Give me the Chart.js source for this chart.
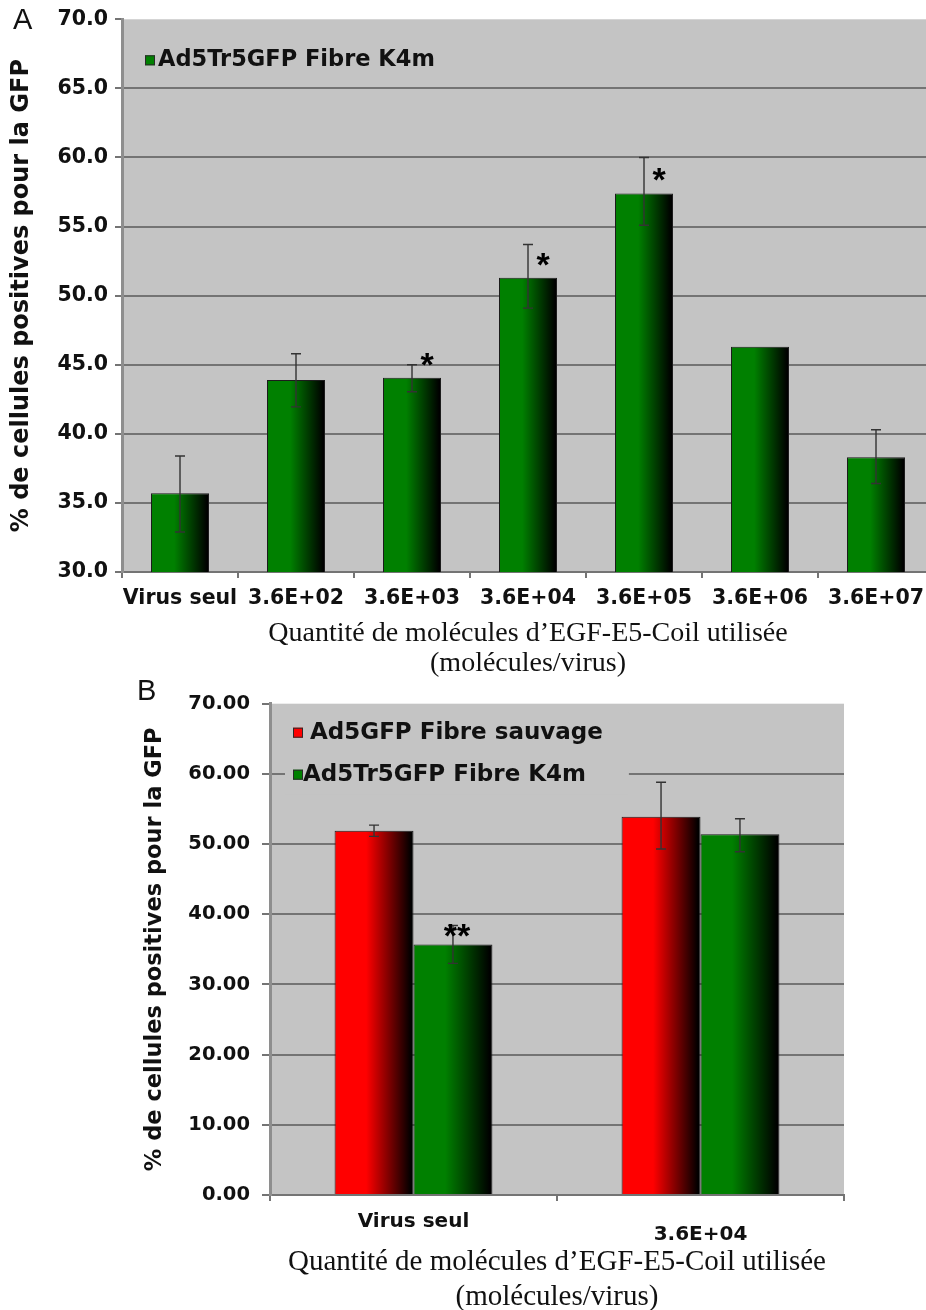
<!DOCTYPE html>
<html>
<head>
<meta charset="utf-8">
<title>EGF-E5-Coil</title>
<script src="https://cdn.jsdelivr.net/npm/chart.js@4.4.0/dist/chart.umd.min.js"></script>
<style>
  html, body { margin: 0; padding: 0; background: #fff; overflow: hidden; width: 926px; height: 1310px; }
  canvas { position: absolute; left: 0; }
  #chartA { top: 0; }
  #chartB { top: 680px; }
  .tag { position: absolute; font: 29px "Liberation Sans", Arial, sans-serif; color: #111; line-height: 1; }
</style>
</head>
<body>
<canvas id="chartA" width="940" height="680"></canvas>
<canvas id="chartB" width="926" height="640"></canvas>
<div class="tag" style="left:13px;top:5px;">A</div>
<div class="tag" style="left:137px;top:676px;">B</div>
<script>
// ---- Panel A : Ad5Tr5GFP Fibre K4m vs. amount of EGF-E5-Coil ----
const categoriesA = ['Virus seul', '3.6E+02', '3.6E+03', '3.6E+04', '3.6E+05', '3.6E+06', '3.6E+07'];
const k4mValuesA  = [35.7, 43.9, 44.05, 51.3, 57.4, 46.3, 38.3];
const k4mErrLowA  = [32.9, 41.95, 43.05, 49.1, 55.1, null, 36.4];
const k4mErrHighA = [38.4, 45.8, 45.0, 53.7, 60.0, null, 40.3];
const k4mStarsA   = ['', '', '*', '*', '*', '', ''];
const yRangeA     = [30, 70, 5];

// ---- Panel B : wild-type fibre vs. K4m fibre ----
const categoriesB     = ['Virus seul', ['', '3.6E+04']];
const sauvageValuesB  = [51.9, 53.9];
const sauvageErrLowB  = [51.1, 49.3];
const sauvageErrHighB = [52.7, 58.8];
const sauvageStarsB   = ['', ''];
const k4mValuesB      = [35.7, 51.4];
const k4mErrLowB      = [33.0, 48.9];
const k4mErrHighB     = [38.4, 53.6];
const k4mStarsB       = ['**', ''];
const yRangeB         = [0, 70, 10];

const seriesNames = { sauvage: 'Ad5GFP Fibre sauvage', k4m: 'Ad5Tr5GFP Fibre K4m' };
const yTitle  = '% de cellules positives pour la GFP';
const xTitle  = ['Quantité de molécules d’EGF-E5-Coil utilisée', '(molécules/virus)'];

const GREEN = '#008000', RED = '#ff0000';
const plotBg = '#c4c4c4';
const gridGray = '#747474';
const sans = '"DejaVu Sans", Verdana, sans-serif';
const serif = '"Liberation Serif", "Times New Roman", serif';

// Plot background, shaded bars, error bars, significance marks and legend
const decor = {
  id: 'decor',
  beforeDraw(chart) {
    const { ctx, chartArea: a } = chart;
    ctx.save();
    ctx.fillStyle = plotBg;
    ctx.fillRect(a.left, a.top, a.right - a.left, a.bottom - a.top);
    ctx.restore();
  },
  beforeDatasetsDraw(chart) {
    const { ctx } = chart;
    chart.data.datasets.forEach((ds, di) => {
      chart.getDatasetMeta(di).data.forEach(el => {
        const { x, width } = el.getProps(['x', 'width'], true);
        const left = x - width / 2;
        const g = ctx.createLinearGradient(left, 0, left + width, 0);
        g.addColorStop(0, ds.baseColor);
        g.addColorStop(0.4, ds.baseColor);
        g.addColorStop(0.97, '#000');
        g.addColorStop(1, '#000');
        el.options.backgroundColor = g;
      });
    });
  },
  afterDatasetsDraw(chart, args, opts) {
    const { ctx, scales: { y } } = chart;
    ctx.save();
    chart.data.datasets.forEach((ds, di) => {
      chart.getDatasetMeta(di).data.forEach((el, i) => {
        const { x, y: top } = el.getProps(['x', 'y'], true);
        const lo = ds.errLow[i], hi = ds.errHigh[i];
        if (lo != null && hi != null) {
          const yl = y.getPixelForValue(lo), yh = y.getPixelForValue(hi);
          ctx.strokeStyle = '#333';
          ctx.lineWidth = 1.4;
          ctx.beginPath();
          ctx.moveTo(x, yl); ctx.lineTo(x, yh);
          ctx.moveTo(x - 5, yl); ctx.lineTo(x + 5, yl);
          ctx.moveTo(x - 5, yh); ctx.lineTo(x + 5, yh);
          ctx.stroke();
        }
        const s = ds.stars[i];
        if (s) {
          ctx.fillStyle = '#000';
          ctx.font = 'bold 34px "Liberation Sans", Arial, sans-serif';
          ctx.textAlign = 'center';
          ctx.textBaseline = 'alphabetic';
          ctx.fillText(s, x + opts.starDx, top + opts.starDy);
        }
      });
    });
    // legend
    const L = opts.legend, a = chart.chartArea, sets = chart.data.datasets;
    ctx.font = 'bold ' + L.size + 'px ' + sans;
    ctx.textAlign = 'left';
    ctx.textBaseline = 'middle';
    const x0 = a.left + L.dx, y0 = a.top + L.dy;
    if (L.boxed) {
      let w = 0;
      sets.forEach((d, i) => { w = Math.max(w, L.gap[i] + ctx.measureText(d.label).width); });
      ctx.fillStyle = plotBg;
      ctx.fillRect(x0 - 8, y0 - 20, w + 34, L.rowGap * (sets.length - 1) + 40);
    }
    sets.forEach((d, i) => {
      const yy = y0 + i * L.rowGap;
      ctx.fillStyle = d.baseColor;
      ctx.fillRect(x0, yy - 5, 10, 10);
      ctx.strokeStyle = '#2a2a2a';
      ctx.lineWidth = 1;
      ctx.strokeRect(x0 + 0.5, yy - 4.5, 9, 9);
      ctx.fillStyle = '#111';
      ctx.fillText(d.label, x0 + L.gap[i], yy);
    });
    ctx.restore();
  }
};

function makeOptions(cfg) {
  const [ymin, ymax, ystep] = cfg.yRange;
  return {
    responsive: false,
    animation: false,
    devicePixelRatio: 1,
    layout: { padding: cfg.padding },
    plugins: {
      legend: { display: false },
      tooltip: { enabled: false },
      decor: { legend: cfg.legend, starDx: cfg.starDx, starDy: cfg.starDy }
    },
    datasets: { bar: { categoryPercentage: cfg.catPct, barPercentage: 1 } },
    scales: {
      x: {
        afterFit: s => { s.height = cfg.xHeight; },
        grid: { display: true, drawOnChartArea: false, offset: true, color: gridGray, lineWidth: 2, tickLength: 6 },
        border: { display: true, color: gridGray, width: 2 },
        ticks: { color: '#111', padding: cfg.xTickPad, maxRotation: 0, autoSkip: false,
                 font: { family: sans, size: cfg.xTickSize, weight: 'bold', lineHeight: cfg.xTickLH } },
        title: { display: true, text: xTitle, color: '#111',
                 font: { family: serif, size: cfg.xTitleSize, lineHeight: cfg.xTitleLH },
                 padding: { top: 0, bottom: cfg.xTitlePad } }
      },
      y: {
        min: ymin, max: ymax,
        afterFit: s => { s.width = cfg.yWidth; },
        grid: { color: c => (c.tick && c.tick.value === ymax) ? 'rgba(0,0,0,0)' : gridGray,
                tickColor: gridGray, lineWidth: 2, tickLength: cfg.yTickLen },
        border: { display: true, color: '#8e8e8e', width: 3 },
        ticks: { stepSize: ystep, color: '#111', padding: cfg.yTickPad,
                 font: { family: sans, size: cfg.yTickSize, weight: 'bold' },
                 callback: v => Number(v).toFixed(cfg.decimals) },
        title: { display: true, text: yTitle, color: '#111',
                 font: { family: sans, size: cfg.yTitleSize, weight: 'bold', lineHeight: 1.2 },
                 padding: { top: cfg.yTitlePad, bottom: 0 } }
      }
    }
  };
}

new Chart(document.getElementById('chartA'), {
  type: 'bar',
  data: {
    labels: categoriesA,
    datasets: [{
      label: seriesNames.k4m, data: k4mValuesA, baseColor: GREEN,
      errLow: k4mErrLowA, errHigh: k4mErrHighA, stars: k4mStarsA,
      backgroundColor: () => GREEN, borderColor: '#1c1c1c', borderWidth: 1
    }]
  },
  options: makeOptions({
    yRange: yRangeA, decimals: 1, catPct: 0.5,
    padding: { left: 0, top: 17, right: 6, bottom: 0 },
    yWidth: 122, xHeight: 108, yTickLen: 7, yTickPad: 7, yTickSize: 20.5,
    xTickPad: 8, xTickSize: 20.5, xTickLH: 1.2,
    xTitleSize: 28, xTitleLH: '30px', xTitlePad: 1,
    yTitleSize: 24, yTitlePad: 7.6,
    starDx: 15, starDy: -2,
    legend: { dx: 23, dy: 41, rowGap: 0, gap: [13], boxed: false, size: 22.5 }
  }),
  plugins: [decor]
});

new Chart(document.getElementById('chartB'), {
  type: 'bar',
  data: {
    labels: categoriesB,
    datasets: [{
      label: seriesNames.sauvage, data: sauvageValuesB, baseColor: RED,
      errLow: sauvageErrLowB, errHigh: sauvageErrHighB, stars: sauvageStarsB,
      backgroundColor: () => RED, borderColor: '#1c1c1c', borderWidth: 1
    }, {
      label: seriesNames.k4m, data: k4mValuesB, baseColor: GREEN,
      errLow: k4mErrLowB, errHigh: k4mErrHighB, stars: k4mStarsB,
      backgroundColor: () => GREEN, borderColor: '#1c1c1c', borderWidth: 1
    }]
  },
  options: makeOptions({
    yRange: yRangeB, decimals: 2, catPct: 0.55,
    padding: { left: 0, top: 17, right: 82, bottom: 0 },
    yWidth: 270, xHeight: 125, yTickLen: 8, yTickPad: 12, yTickSize: 19.5,
    xTickPad: 14.5, xTickSize: 20, xTickLH: '13px',
    xTitleSize: 29, xTitleLH: '35px', xTitlePad: 5.5,
    yTitleSize: 22.5, yTitlePad: 141.5,
    starDx: 4, starDy: 3,
    legend: { dx: 23, dy: 29, rowGap: 42, gap: [17, 10], boxed: true, size: 23 }
  }),
  plugins: [decor]
});
</script>
</body>
</html>
